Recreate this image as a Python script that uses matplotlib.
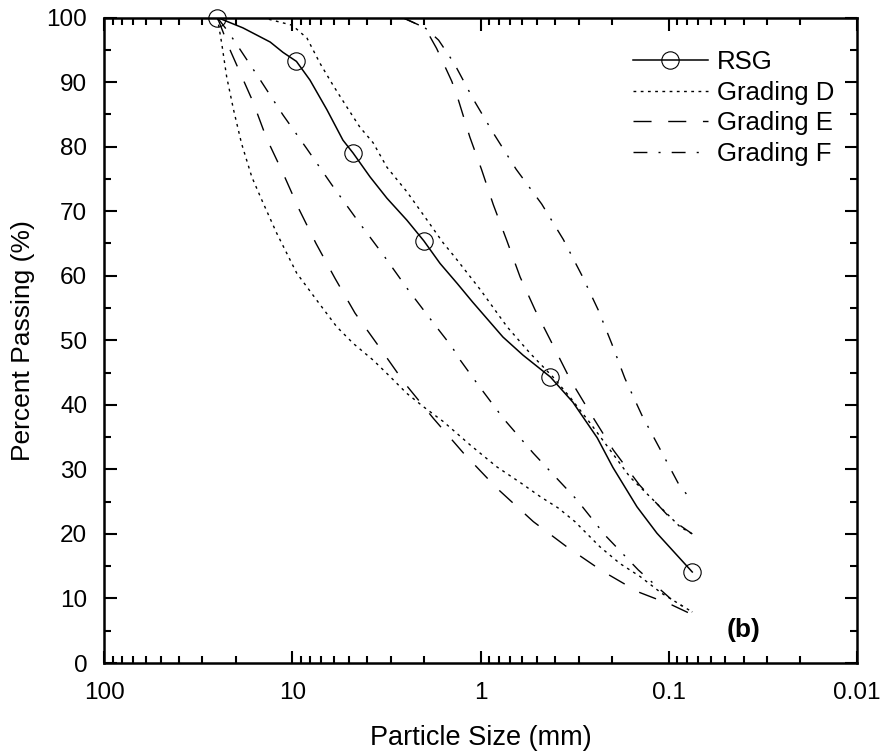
import matplotlib
matplotlib.use('Agg')
from matplotlib import pyplot as plt
from matplotlib.lines import Line2D
from matplotlib.ticker import FixedLocator, LogLocator, MultipleLocator, NullFormatter

plt.rcParams['font.family'] = ['Liberation Sans', 'DejaVu Sans']

# RSG sieve results (markers)
rsg_sizes = [25, 9.5, 4.75, 2.0, 0.425, 0.075]
rsg_passing = [100, 93.2, 79.0, 65.4, 44.3, 14.1]

# RSG smoothed curve
rsg_curve_size = [25, 18.3, 13.1, 11.2, 9.5, 8.05, 6.54, 5.38, 4.75, 3.86, 3.14, 2.46, 2.0,
                  1.64, 1.33, 1.10, 0.76, 0.595, 0.425, 0.323, 0.240, 0.198, 0.1475, 0.1155, 0.075]
rsg_curve_pass = [100, 98.4, 96.2, 94.6, 93.2, 90.3, 85.7, 81.0, 79.0, 75.3, 72.0, 68.6, 65.4,
                  61.9, 58.8, 55.9, 50.5, 47.7, 44.3, 40.4, 34.9, 30.3, 24.2, 20.1, 14.1]

# Grading D band (dotted)
d_upper_size = [14.5, 10.0, 8.35, 7.12, 6.07, 5.12, 4.37, 3.72, 3.14, 2.46, 1.92, 1.58, 1.37,
                1.0, 0.723, 0.546, 0.412, 0.335, 0.262, 0.205, 0.1606, 0.1213, 0.0871, 0.075]
d_upper_pass = [100, 98.8, 96.8, 92.9, 89.5, 86.1, 83.0, 80.6, 76.8, 73.0, 68.6, 65.1, 62.9,
                57.8, 52.1, 48.0, 44.3, 41.2, 37.2, 33.0, 28.8, 25.3, 21.1, 20.0]
d_lower_size = [25, 23.7, 22.3, 20.5, 18.6, 16.4, 14.5, 12.1, 9.47, 7.41, 5.81, 4.74, 3.71, 3.03,
                2.47, 2.01, 1.576, 1.137, 0.82, 0.604, 0.483, 0.386, 0.315, 0.232, 0.1815, 0.142,
                0.109, 0.075]
d_lower_pass = [100, 96.0, 90.8, 85.7, 80.5, 75.3, 71.7, 66.6, 60.4, 56.2, 52.1, 49.5, 46.9, 44.4,
                41.8, 39.7, 37.4, 33.8, 30.4, 27.8, 25.8, 24.0, 21.9, 18.0, 15.4, 13.4,
                10.8, 7.9]

# Grading E band (long dash)
e_upper_size = [2.6, 1.97, 1.71, 1.42, 1.31, 1.14, 0.986, 0.855, 0.726, 0.616, 0.513, 0.425,
                0.332, 0.257, 0.197, 0.1433, 0.0964, 0.075]
e_upper_pass = [100, 98.4, 95.2, 90.1, 87.2, 81.5, 76.4, 71.0, 65.5, 59.8, 54.7, 50.0,
                43.8, 38.4, 33.0, 27.6, 22.2, 20.0]
e_lower_size = [25, 21.2, 16.2, 13.7, 11.2, 9.17, 7.48, 5.93, 4.64, 3.42, 2.52, 1.78, 1.23,
                0.82, 0.524, 0.348, 0.227, 0.145, 0.0964, 0.075]
e_lower_pass = [100, 94.7, 87.0, 81.3, 75.9, 70.2, 65.0, 59.6, 54.2, 48.8, 43.3, 37.9, 32.5,
                27.1, 21.9, 18.0, 14.3, 11.0, 9.0, 7.5]

# Grading F band (dash-dot)
f_upper_size = [2.6, 1.97, 1.67, 1.38, 1.09, 0.855, 0.647, 0.473, 0.363, 0.290, 0.237, 0.201,
                0.171, 0.139, 0.112, 0.0889, 0.075]
f_upper_pass = [100, 98.4, 96.5, 92.9, 87.3, 82.1, 76.5, 71.1, 65.6, 60.1, 54.7, 49.5,
                44.1, 38.4, 33.3, 27.8, 25.0]
f_lower_size = [25, 21.9, 19.9, 15.0, 11.2, 8.38, 6.17, 4.51, 3.28, 2.42, 1.75, 1.42, 1.28, 1.03,
                0.757, 0.524, 0.402, 0.308, 0.218, 0.145, 0.0964, 0.075]
f_lower_pass = [100, 97.8, 96.0, 90.6, 84.9, 79.7, 74.1, 68.6, 63.2, 57.8, 52.4, 49.0, 46.9, 43.1,
                37.9, 32.5, 28.9, 25.3, 19.8, 14.4, 9.8, 7.9]

x_ticks = [100, 10, 1, 0.1, 0.01]
x_tick_labels = ['100', '10', '1', '0.1', '0.01']
y_ticks = list(range(0, 101, 10))

ls_d = (0, (2, 3.2))
ls_e = (0, (13, 12))
ls_f = (0, (10, 8, 1.5, 8))

fig = plt.figure(figsize=(8.81, 7.53), dpi=100)
ax = fig.add_axes([104 / 881, 1 - 663 / 753, (857 - 104) / 881, (663 - 17.5) / 753])

lw = 1.0
ax.plot(rsg_curve_size, rsg_curve_pass, color='black', lw=1.1, zorder=3)
ax.plot(rsg_sizes, rsg_passing, linestyle='none', marker='o', ms=12.5, mfc='none',
        mec='black', mew=0.8, zorder=4, clip_on=False)
ax.plot(d_upper_size, d_upper_pass, color='black', lw=lw, linestyle=ls_d)
ax.plot(d_lower_size, d_lower_pass, color='black', lw=lw, linestyle=ls_d)
ax.plot(e_upper_size, e_upper_pass, color='black', lw=lw, linestyle=ls_e)
ax.plot(e_lower_size, e_lower_pass, color='black', lw=lw, linestyle=ls_e)
ax.plot(f_upper_size, f_upper_pass, color='black', lw=lw, linestyle=ls_f)
ax.plot(f_lower_size, f_lower_pass, color='black', lw=lw, linestyle=ls_f)

ax.set_xscale('log')
ax.set_xlim(100, 0.01)
ax.set_ylim(0, 100)

ax.xaxis.set_major_locator(FixedLocator(x_ticks))
ax.set_xticklabels(x_tick_labels)
ax.xaxis.set_minor_locator(LogLocator(base=10, subs=range(2, 10), numticks=20))
ax.xaxis.set_minor_formatter(NullFormatter())
ax.yaxis.set_major_locator(FixedLocator(y_ticks))
ax.yaxis.set_minor_locator(MultipleLocator(5))

ax.tick_params(which='both', direction='in', top=True, right=True, width=1.5, labelsize=17.5)
ax.tick_params(which='major', length=9)
ax.tick_params(which='minor', length=5)
ax.tick_params(axis='x', pad=14)
ax.tick_params(axis='y', pad=12)
for s in ax.spines.values():
    s.set_linewidth(1.8)

ax.set_xlabel('Particle Size (mm)', fontsize=19.5, labelpad=15)
ax.set_ylabel('Percent Passing (%)', fontsize=19, labelpad=8)

handles = [
    Line2D([], [], color='black', lw=1.1, marker='o', ms=12.5, mfc='none', mew=0.8),
    Line2D([], [], color='black', lw=lw, linestyle=ls_d),
    Line2D([], [], color='black', lw=lw, linestyle=ls_e),
    Line2D([], [], color='black', lw=lw, linestyle=ls_f),
]
labels = ['RSG', 'Grading D', 'Grading E', 'Grading F']
ax.legend(handles, labels, loc='upper left', bbox_to_anchor=(633 / 881, 1 - 50 / 753),
          bbox_transform=fig.transFigure, frameon=False, fontsize=18.5, handlelength=2.9,
          handletextpad=0.35, labelspacing=0.26, borderpad=0, borderaxespad=0)

fig.text(744 / 881, 1 - 630 / 753, '(b)', fontsize=19, fontweight='bold',
         ha='center', va='center')

fig.savefig('out.png', dpi=100)
